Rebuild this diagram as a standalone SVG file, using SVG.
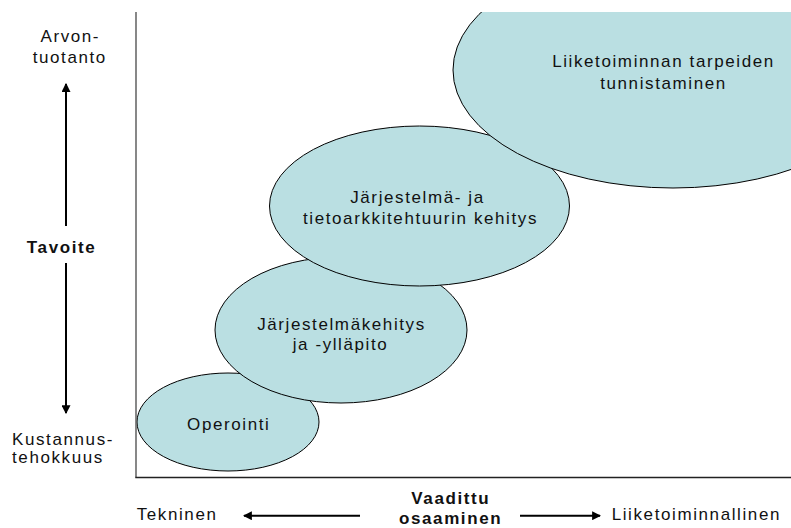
<svg xmlns="http://www.w3.org/2000/svg" width="791" height="528" viewBox="0 0 791 528">
  <style>
    text { font-family: "Liberation Sans", Arial, sans-serif; font-size: 17px; fill: #111; letter-spacing: 1.6px; }
    .c { text-anchor: middle; }
    .b { font-weight: bold; }
    .blob { fill: #badfe2; stroke: #000; stroke-width: 1; }
    .axis { fill: none; stroke-width: 1.4; }
    .arr { stroke: #000; stroke-width: 2; fill: none; }
  </style>
  <defs>
    <marker id="head" viewBox="0 0 8 8" refX="7" refY="4" markerWidth="4.5" markerHeight="4.5" orient="auto" markerUnits="strokeWidth">
      <path d="M0,0 L8,4 L0,8 Z" fill="#000"/>
    </marker>
    <clipPath id="plot">
      <rect x="0" y="12" width="791" height="516"/>
    </clipPath>
  </defs>

  <rect width="791" height="528" fill="#fff"/>

  <!-- nodes, lowest first so each higher stage overlaps the one below -->
  <g id="operointi">
    <ellipse class="blob" cx="228" cy="422" rx="91" ry="49"/>
    <text class="c" x="228.8" y="430">Operointi</text>
  </g>
  <g id="jarjestelmakehitys">
    <ellipse class="blob" cx="341" cy="330" rx="126" ry="73"/>
    <text class="c" x="341.5" y="329.5">Järjestelmäkehitys</text>
    <text class="c" x="340.5" y="349.5">ja -ylläpito</text>
  </g>
  <g id="arkkitehtuuri">
    <ellipse class="blob" cx="419.5" cy="206" rx="150" ry="80"/>
    <text class="c" x="417.5" y="203">Järjestelmä- ja</text>
    <text class="c" x="420.5" y="223.5">tietoarkkitehtuurin kehitys</text>
  </g>
  <g id="liiketoiminta" clip-path="url(#plot)">
    <ellipse class="blob" cx="673" cy="70" rx="220" ry="118"/>
    <text class="c" x="663.5" y="66.5">Liiketoiminnan tarpeiden</text>
    <text class="c" x="663.5" y="89">tunnistaminen</text>
  </g>

  <!-- axes and direction arrows -->
  <g id="connectors">
    <line class="axis" stroke="#555" x1="136" y1="12" x2="136" y2="477.5"/>
    <line class="axis" stroke="#222" x1="135.3" y1="477.5" x2="791" y2="477.5"/>
    <line class="arr" x1="66" y1="226" x2="66" y2="84" marker-end="url(#head)"/>
    <line class="arr" x1="66" y1="263" x2="66" y2="413" marker-end="url(#head)"/>
    <line class="arr" x1="360" y1="515.7" x2="244" y2="515.7" marker-end="url(#head)"/>
    <line class="arr" x1="520" y1="515.7" x2="600" y2="515.7" marker-end="url(#head)"/>
  </g>

  <!-- axis labels -->
  <g id="labels">
    <text class="c" x="70.3" y="41.5">Arvon-</text>
    <text class="c" x="69.8" y="63.3">tuotanto</text>
    <text class="c b" x="61.6" y="253.3">Tavoite</text>
    <text x="12" y="445">Kustannus-</text>
    <text x="12" y="463.3">tehokkuus</text>
    <text x="136.7" y="520.3">Tekninen</text>
    <text class="c b" x="450.8" y="503.5">Vaadittu</text>
    <text class="c b" x="450.6" y="523.5">osaaminen</text>
    <text x="611.7" y="520.3">Liiketoiminnallinen</text>
  </g>
</svg>
